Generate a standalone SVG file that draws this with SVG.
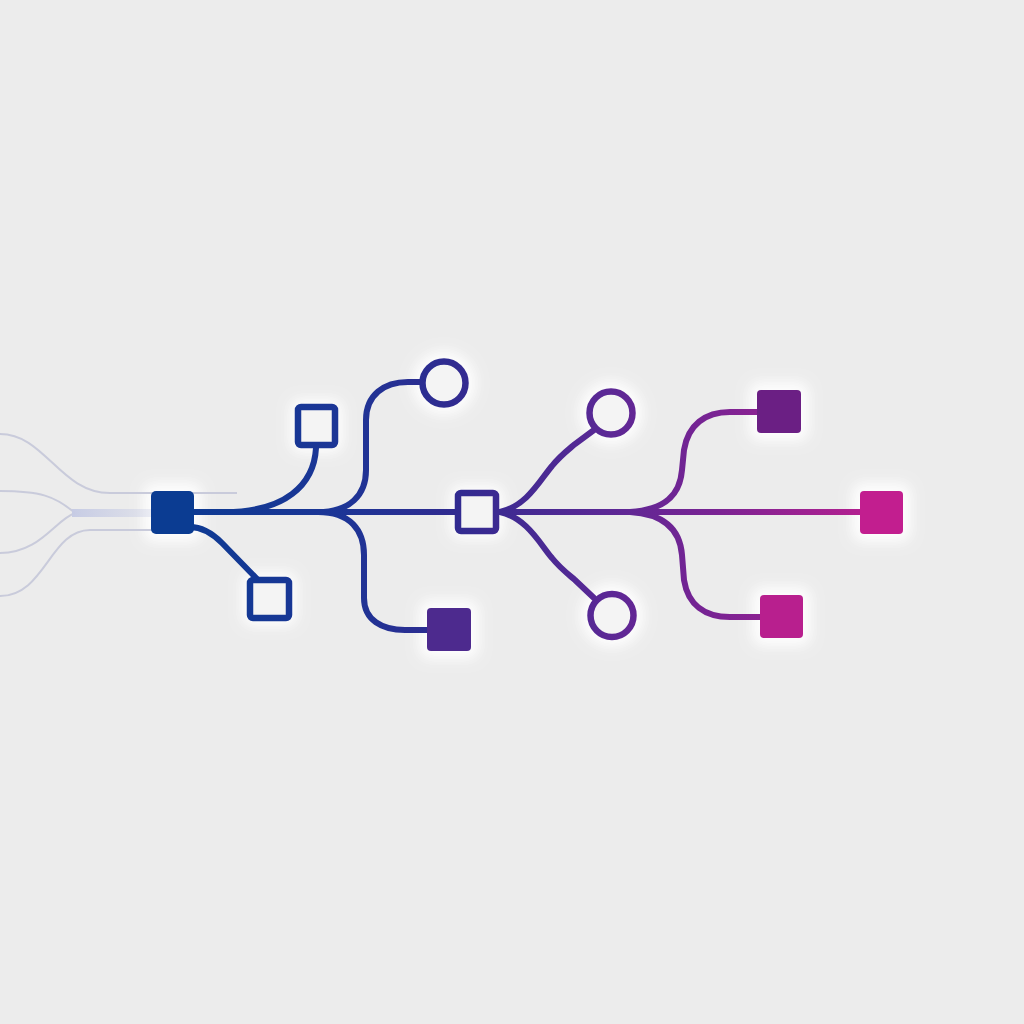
<svg xmlns="http://www.w3.org/2000/svg" width="1024" height="1024" viewBox="0 0 1024 1024">
<defs>
<linearGradient id="g" gradientUnits="userSpaceOnUse" x1="150" y1="0" x2="905" y2="0">
<stop offset="0" stop-color="#0b3c92"/>
<stop offset="0.25" stop-color="#1c3596"/>
<stop offset="0.4" stop-color="#302b90"/>
<stop offset="0.6" stop-color="#5a2895"/>
<stop offset="0.75" stop-color="#7a2393"/>
<stop offset="1" stop-color="#c41f8f"/>
</linearGradient>
<linearGradient id="band" gradientUnits="userSpaceOnUse" x1="70" y1="0" x2="152" y2="0">
<stop offset="0" stop-color="#c6cbe4"/>
<stop offset="1" stop-color="#c6cbe4" stop-opacity="0.3"/>
</linearGradient>
<filter id="blur" x="-60%" y="-60%" width="220%" height="220%">
<feGaussianBlur stdDeviation="7"/>
</filter>
</defs>
<style>
.faint{fill:none;stroke:#c9cbdb;stroke-width:2}
.edge{fill:none;stroke:url(#g);stroke-width:6;stroke-linecap:round}
.open{fill:#f4f4f4;stroke:url(#g);stroke-width:6.5}
.halo{fill:#ffffff;filter:url(#blur);opacity:0.95}
</style>
<rect width="1024" height="1024" fill="#ececec"/>
<g id="halos">
<rect class="halo" x="143" y="483" width="59" height="59" rx="10"/>
<rect class="halo" x="290" y="399" width="53" height="54" rx="10"/>
<rect class="halo" x="242" y="572" width="55" height="54" rx="10"/>
<circle class="halo" cx="444" cy="383" r="32"/>
<rect class="halo" x="419" y="600" width="60" height="59" rx="10"/>
<rect class="halo" x="450" y="485" width="54" height="54" rx="10"/>
<circle class="halo" cx="611" cy="413" r="32"/>
<circle class="halo" cx="612" cy="615.5" r="32"/>
<rect class="halo" x="749" y="382" width="60" height="59" rx="10"/>
<rect class="halo" x="852" y="483" width="59" height="59" rx="10"/>
<rect class="halo" x="752" y="587" width="59" height="59" rx="10"/>
</g>
<g id="faint-lines">
<path class="faint" d="M0,434 C45,434 60,493 110,493 L237,493"/>
<path class="faint" d="M0,491 C40,491 55,496 75,513"/>
<path class="faint" d="M0,553 C40,553 55,520 75,513"/>
<path d="M72,513 L152,513" fill="none" stroke="url(#band)" stroke-width="8"/>
<path class="faint" d="M0,596 C45,596 50,530 90,530 L152,530"/>
</g>
<g id="connectors">
<path class="edge" d="M190,512 L458,512"/>
<path class="edge" d="M496,512 L865,512" stroke-width="5"/>
<path class="edge" d="M190,527 C202,527 212,533 222,543 L258,580"/>
<path class="edge" d="M225,512 C285,512 314,485 316,448"/>
<path class="edge" d="M318,512 C350,512 366,495 366,470 L366,420 C366,395 384,382 408,382 L420,382"/>
<path class="edge" d="M318,512 C350,512 364,530 364,555 L364,598 C364,620 382,630 405,630 L430,630"/>
<path class="edge" d="M500,512 C527,506 540,480 552,466 C560,456 568,450 575,444 L594,430"/>
<path class="edge" d="M500,512 C527,518 540,544 552,558 C560,568 568,574 575,580 L594,598"/>
<path class="edge" d="M630,512 C665,510 680,495 682,470 L684,450 C688,425 705,412 730,412 L760,412"/>
<path class="edge" d="M630,512 C665,514 680,530 682,555 L684,580 C688,605 705,617 730,617 L763,617"/>
</g>
<g id="n-root"><rect x="151" y="491" width="43" height="43" rx="5" fill="#0b3c92"/></g>
<g id="n-ul"><rect x="298" y="407" width="37" height="38" rx="3" class="open"/></g>
<g id="n-ll"><rect x="250" y="580" width="39" height="38" rx="3" class="open"/></g>
<g id="n-c1"><circle cx="444" cy="383" r="21.5" class="open" stroke-width="7"/></g>
<g id="n-b1"><rect x="427" y="608" width="44" height="43" rx="4" fill="#4d2a8e"/></g>
<g id="n-mid"><rect x="458" y="493" width="38" height="38" rx="3" class="open"/></g>
<g id="n-c2"><circle cx="611" cy="413" r="21.5" class="open"/></g>
<g id="n-c3"><circle cx="612" cy="615.5" r="21.5" class="open"/></g>
<g id="n-tr"><rect x="757" y="390" width="44" height="43" rx="4" fill="#6b1f84"/></g>
<g id="n-r"><rect x="860" y="491" width="43" height="43" rx="4" fill="#c21e8f"/></g>
<g id="n-br"><rect x="760" y="595" width="43" height="43" rx="4" fill="#b81f8e"/></g>
</svg>
